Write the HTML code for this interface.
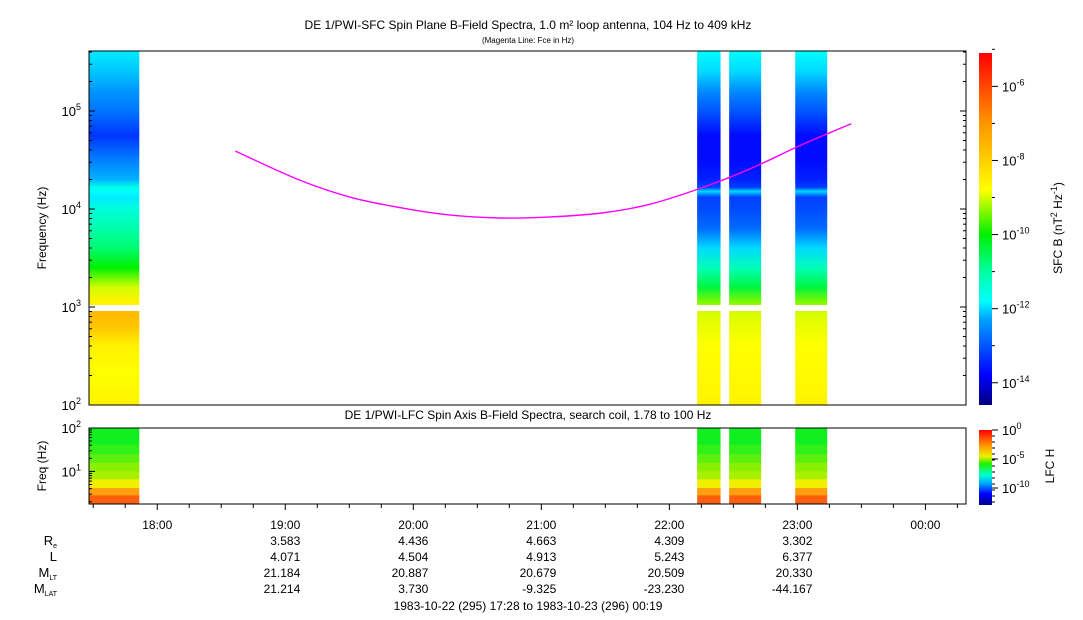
<!DOCTYPE html>
<html><head><meta charset="utf-8"><style>
body{margin:0;background:#fff;font-family:"Liberation Sans",sans-serif;}
#wrap{position:relative;width:1083px;height:620px;overflow:hidden}
</style></head><body>
<div id="wrap">
<svg id="svg" width="1083" height="620" style="position:absolute;left:0;top:0"></svg>
</div>
<script>
// ---- data ----
const segStarts=[17.467,22.217,22.467,22.983];
const segEnds=[17.86,22.4,22.717,23.233];
const sfcLogF=[5.61,5.4,5.2,5.0,4.75,4.5,4.3,4.22,4.18,4.12,4.0,3.8,3.6,3.4,3.2,3.05,3.0,2.95,2.8,2.6,2.3,2.0];
const sfcSeg1=[-11.9,-12.1,-12.4,-12.7,-13.3,-12.6,-12.2,-11.6,-11.8,-11.9,-11.5,-11.1,-10.7,-10.0,-9.0,-8.6,-8.8,-7.6,-7.8,-8.6,-8.8,-8.6];
const sfcSegB=[-11.8,-12.0,-12.5,-13.0,-13.7,-13.7,-13.5,-13.2,-12.0,-13.2,-13.1,-12.8,-12.0,-11.2,-10.4,-9.4,-9.2,-9.0,-8.9,-8.8,-8.7,-8.6];
const fceTimes=[18.61,19.1,19.5,19.9,20.28,20.68,21.07,21.47,21.85,22.25,22.64,23.03,23.42];
const fceKHz=[39,20,13.3,10.3,8.7,8.1,8.3,9.1,11.2,16.4,26,45,74];
const lfcLogF=[2.0,1.62,1.4,1.2,1.0,0.82,0.62,0.45,0.25];
const lfcColors=['#10f020','#30f018','#5cf010','#88f000','#a8f000','#f0f000','#ffa010','#ff6010'];
const timeLabels=['18:00','19:00','20:00','21:00','22:00','23:00','00:00'];
const timeHours=[18,19,20,21,22,23,24];
const ephHours=[19,20,21,22,23];
const ephRe=['3.583','4.436','4.663','4.309','3.302'];
const ephL=['4.071','4.504','4.913','5.243','6.377'];
const ephMLT=['21.184','20.887','20.679','20.509','20.330'];
const ephMLAT=['21.214','3.730','-9.325','-23.230','-44.167'];
// ---- scales ----
const X0=89,X1=966,T0=17.467,T1=24.317;
const xT=t=>X0+(t-T0)/(T1-T0)*(X1-X0);
const yF=lf=>405-(lf-2)*98;
const yL=lf=>504-(lf-Math.log10(1.78))/(2-Math.log10(1.78))*(504-428);
const stops=[[-14.6,[0,0,128]],[-13.8,[0,0,255]],[-12.3,[0,160,255]],[-11.8,[0,255,255]],[-11,[0,255,160]],[-10,[0,240,0]],[-8.8,[255,255,0]],[-7,[255,150,0]],[-5.1,[255,0,0]]];
function col(v){if(v<=stops[0][0])return stops[0][1];for(let i=1;i<stops.length;i++){if(v<=stops[i][0]){const a=stops[i-1],b=stops[i],f=(v-a[0])/(b[0]-a[0]);return a[1].map((c,k)=>Math.round(c+(b[1][k]-c)*f));}}return stops[stops.length-1][1];}
const rgb=c=>`rgb(${c[0]},${c[1]},${c[2]})`;
const NS='http://www.w3.org/2000/svg';const svg=document.getElementById('svg');
function mk(tag,attrs,parent){const e=document.createElementNS(NS,tag);for(const k in attrs)e.setAttribute(k,attrs[k]);(parent||svg).appendChild(e);return e;}
function txt(x,y,s,anchor,size,parent){const e=mk('text',{x:x,y:y,'text-anchor':anchor||'middle','font-size':size||12,'font-family':'Liberation Sans, sans-serif'},parent);e.textContent=s;return e;}
// ---- spectrogram ----
const spec=mk('g',{});
segStarts.forEach((s,i)=>{
  const prof=i==0?sfcSeg1:sfcSegB;
  const g=mk('linearGradient',{id:'g'+i,x1:0,y1:0,x2:0,y2:1,gradientUnits:'userSpaceOnUse'});
  g.setAttribute('y1',yF(5.61));g.setAttribute('y2',yF(2));
  sfcLogF.forEach((lf,k)=>{mk('stop',{offset:(5.61-lf)/3.61,'stop-color':rgb(col(prof[k]))},g);});
  const defs=mk('defs',{});defs.appendChild(g);
  const x=xT(s),w=xT(segEnds[i])-x;
  const r1=mk('rect',{x:x,y:yF(5.61),width:w,height:yF(3.02)-yF(5.61),fill:'url(#g'+i+')'},spec);
  
  const r2=mk('rect',{x:x,y:yF(2.96),width:w,height:yF(2)-yF(2.96),fill:'url(#g'+i+')'},spec);
  
});
mk('rect',{x:X0,y:yF(3.02),width:X1-X0,height:yF(2.96)-yF(3.02),fill:'#fff'});
// Fce line (catmull-rom through data points)
const P=fceTimes.map((t,i)=>[xT(t),yF(Math.log10(fceKHz[i]*1000))]);
let d='M'+P[0][0].toFixed(1)+','+P[0][1].toFixed(1);
for(let i=0;i<P.length-1;i++){const p0=P[Math.max(0,i-1)],p1=P[i],p2=P[i+1],p3=P[Math.min(P.length-1,i+2)];
 d+='C'+(p1[0]+(p2[0]-p0[0])/6).toFixed(1)+','+(p1[1]+(p2[1]-p0[1])/6).toFixed(1)+' '+(p2[0]-(p3[0]-p1[0])/6).toFixed(1)+','+(p2[1]-(p3[1]-p1[1])/6).toFixed(1)+' '+p2[0].toFixed(1)+','+p2[1].toFixed(1);}
const fl=mk('path',{d:d,fill:'none',stroke:'#ff00ff','stroke-width':1.4});
// main frame
const mf=mk('rect',{x:X0,y:51,width:X1-X0,height:354,fill:'none',stroke:'#000'});
for(let dec=2;dec<=5;dec++){for(let m=1;m<10;m++){const lf=dec+Math.log10(m);if(lf>5.61)break;const y=yF(lf);mk('line',{x1:X0,x2:X0+(m==1?6:3),y1:y,y2:y,stroke:'#000'});mk('line',{x1:X1,x2:X1-(m==1?6:3),y1:y,y2:y,stroke:'#000'});}
 const tt=txt(X0-8,yF(dec)+5,'10','end',13);const sp=mk('tspan',{dy:-6,'font-size':9},tt);sp.textContent=dec;}
// ---- LFC panel ----
const lg=mk('g',{});
segStarts.forEach((s,i)=>{const x=xT(s),w=xT(segEnds[i])-x;
 lfcColors.forEach((c,k)=>{const r=mk('rect',{x:x,y:yL(lfcLogF[k]),width:w,height:yL(lfcLogF[k+1])-yL(lfcLogF[k])+0.5,fill:c},lg);});});
const lf2=mk('rect',{x:X0,y:428,width:X1-X0,height:76,fill:'none',stroke:'#000'});
[1,2].forEach(dec=>{const tt=txt(X0-8,yL(dec)+5,'10','end',13);const sp=mk('tspan',{dy:-6,'font-size':9},tt);sp.textContent=dec;});
for(let dec=0;dec<2;dec++)for(let m=1;m<10;m++){const lf=dec+Math.log10(m);if(lf<0.25)continue;const y=yL(lf);mk('line',{x1:X0,x2:X0+(m==1?6:3),y1:y,y2:y,stroke:'#000'});}
for(let t=17.5;t<=24.31;t+=0.25){const x=xT(t);const maj=Math.abs(t-Math.round(t))<0.01;mk('line',{x1:x,x2:x,y1:504,y2:504+(maj?6:4),stroke:'#000'});}
timeHours.forEach((h,i)=>{const e=txt(xT(h),529,timeLabels[i],'middle',12);});
const rows=[[545,ephRe],[561,ephL],[577,ephMLT],[593,ephMLAT]];
rows.forEach(r=>ephHours.forEach((h,i)=>{txt(xT(h)+15,r[0],r[1][i],'end',12);}));
let e=txt(57,545,'R','end',13);let s=mk('tspan',{dy:3,'font-size':7},e);s.textContent='e';
txt(57,561,'L','end',13);
e=txt(57,577,'M','end',13);s=mk('tspan',{dy:3,'font-size':7},e);s.textContent='LT';
e=txt(57,593,'M','end',13);s=mk('tspan',{dy:3,'font-size':7},e);s.textContent='LAT';
txt(528,610,'1983-10-22 (295) 17:28 to 1983-10-23 (296) 00:19','middle',12);
let tl=txt(528,29,'DE 1/PWI-SFC  Spin Plane B-Field Spectra, 1.0 m² loop antenna, 104 Hz to 409 kHz','middle',12);
txt(528,43,'(Magenta Line: Fce in Hz)','middle',8);
tl=txt(528,419,'DE 1/PWI-LFC  Spin Axis B-Field Spectra, search coil, 1.78 to 100 Hz','middle',12);
e=txt(0,0,'Frequency (Hz)','middle',12);e.setAttribute('transform','translate(46,228) rotate(-90)');
e=txt(0,0,'Freq (Hz)','middle',12);e.setAttribute('transform','translate(46,466) rotate(-90)');
const cg=mk('linearGradient',{id:'cb',x1:0,y1:1,x2:0,y2:0});mk('defs',{}).appendChild(cg);
stops.forEach(st=>mk('stop',{offset:(st[0]+14.6)/9.5,'stop-color':rgb(st[1])},cg));
const cb=mk('rect',{x:979,y:53,width:13,height:352,fill:'url(#cb)'});
const yC=v=>405-(v+14.6)/9.5*352;
for(let v=-14;v<=-5;v++){const y=yC(v);mk('line',{x1:992,x2:v%2==0?998:995,y1:y,y2:y,stroke:'#000'});
 if(v%2==0){const tt=txt(1002,y+5,'10','start',13);const sp=mk('tspan',{dy:-6,'font-size':9},tt);sp.textContent=v;}}
e=txt(0,0,'SFC B (nT','middle',12);s=mk('tspan',{dy:-5,'font-size':9},e);s.textContent='2';s=mk('tspan',{dy:5},e);s.textContent=' Hz';s=mk('tspan',{dy:-5,'font-size':9},e);s.textContent='-1';s=mk('tspan',{dy:5},e);s.textContent=')';
e.setAttribute('transform','translate(1062,228) rotate(-90)');
const cg2=mk('linearGradient',{id:'cb2',x1:0,y1:0,x2:0,y2:1});mk('defs',{}).appendChild(cg2);
[['0','#ff0000'],['0.2','#ff9000'],['0.35','#f0f000'],['0.45','#20f000'],['0.6','#00ffd0'],['0.72','#00a0ff'],['0.85','#0000ff'],['1','#000090']].forEach(a=>mk('stop',{offset:a[0],'stop-color':a[1]},cg2));
const cb2=mk('rect',{x:979,y:430,width:13,height:75,fill:'url(#cb2)'});
[[0,430],[-5,459],[-10,488]].forEach(a=>{mk('line',{x1:992,x2:998,y1:a[1],y2:a[1],stroke:'#000'});const tt=txt(1002,a[1]+5,'10','start',13);const sp=mk('tspan',{dy:-6,'font-size':9},tt);sp.textContent=a[0];});
for(let y=430;y<505;y+=6)mk('line',{x1:992,x2:995,y1:y,y2:y,stroke:'#000'});
e=txt(0,0,'LFC H','middle',12);e.setAttribute('transform','translate(1054,466) rotate(-90)');
</script>
</body></html>
